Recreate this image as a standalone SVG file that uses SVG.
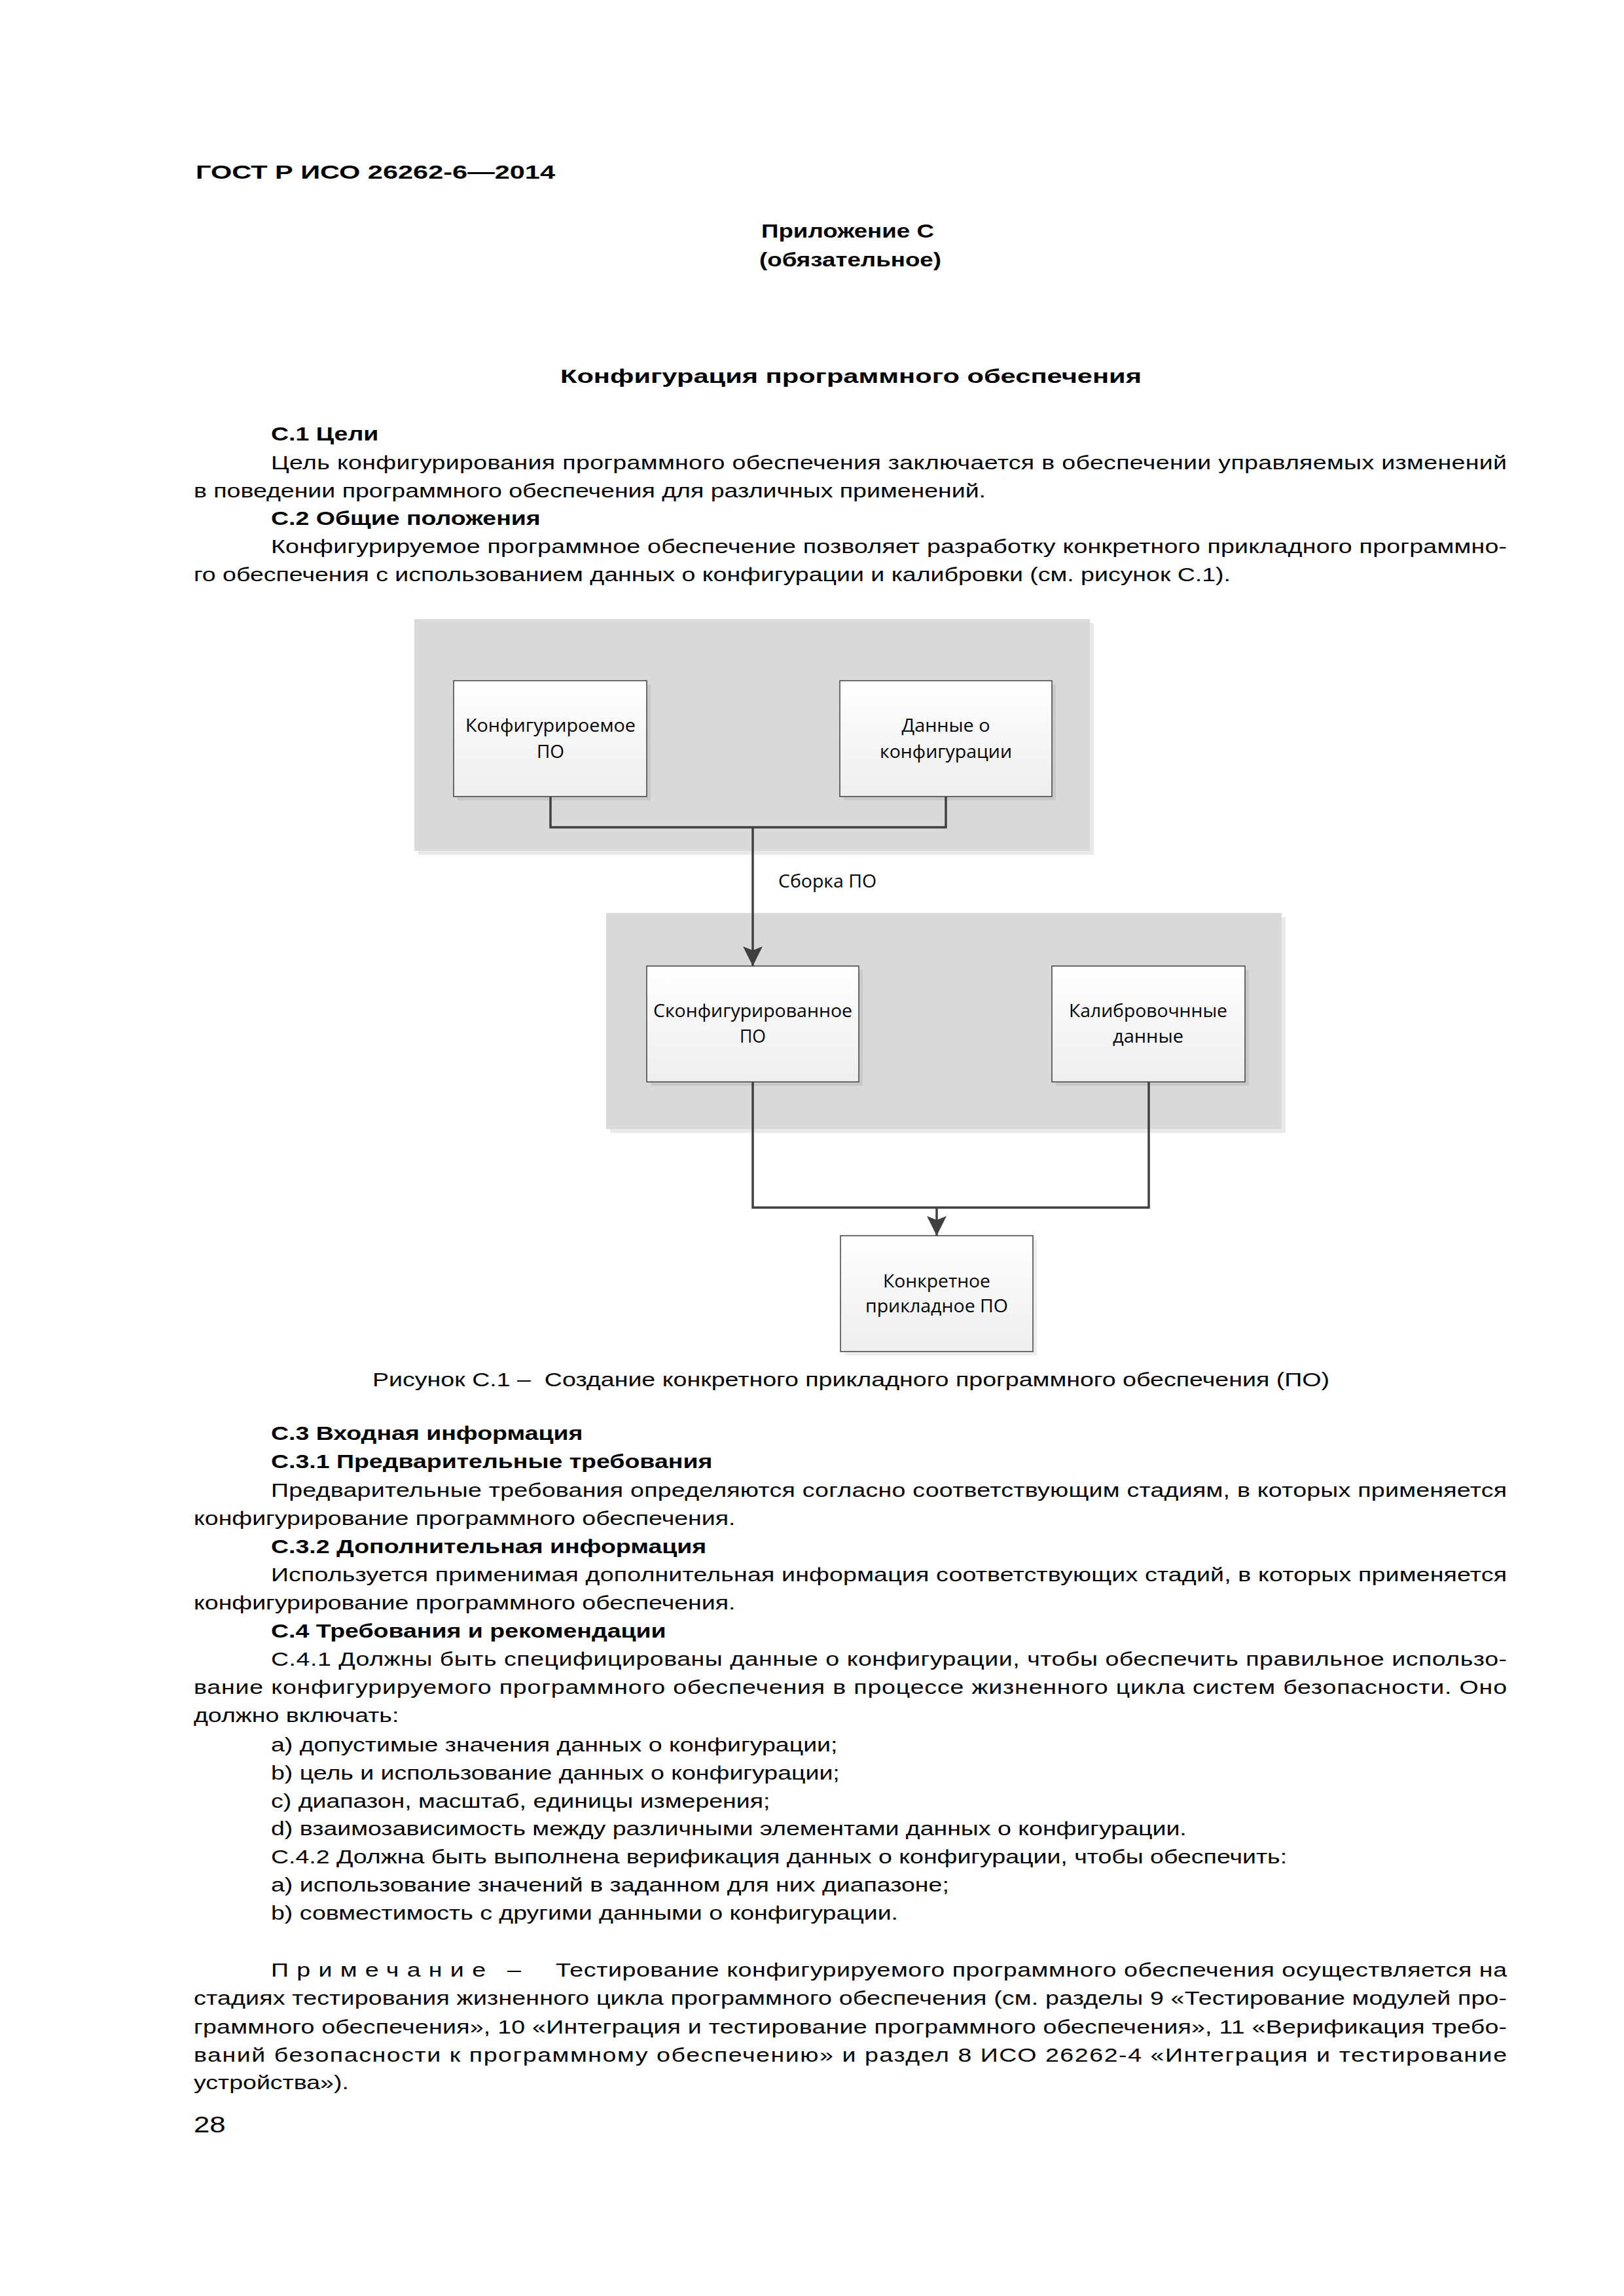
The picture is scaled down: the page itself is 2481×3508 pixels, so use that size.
<svg xmlns="http://www.w3.org/2000/svg" width="2481" height="3508" viewBox="0 0 2481 3508">
<defs>
<linearGradient id="g" x1="0" y1="0" x2="0" y2="1">
<stop offset="0" stop-color="#ffffff"/>
<stop offset="1" stop-color="#eeeeee"/>
</linearGradient>
<marker id="arr" markerUnits="userSpaceOnUse" markerWidth="30" markerHeight="30" refX="30" refY="15" orient="auto" viewBox="0 0 30 30">
<path d="M0,0 L30,15 L0,30 L6,15 Z" fill="#404040"/>
</marker>
<style>
.t{font-family:"Liberation Sans",Arial,sans-serif;font-size:30px;fill:#000}
.b{font-weight:bold}
.d{font-family:"Open Sans","Noto Sans",sans-serif;font-size:28px;fill:#000;text-anchor:middle}
.box{fill:url(#g);stroke:#404040;stroke-width:1.5}
.sh{fill:#000;fill-opacity:0.07}
.cont{fill:#d9d9d9}
.csh{fill:#e9e9e9}
.con{fill:none;stroke:#404040;stroke-width:3.5}
</style>
</defs>
<rect width="2481" height="3508" fill="#fff"/>

<!-- header / titles -->
<text class="t b" x="299" y="273" font-size="40" textLength="549" lengthAdjust="spacingAndGlyphs">ГОСТ Р ИСО 26262-6—2014</text>
<text class="t b" x="1295" y="363" text-anchor="middle" textLength="264" lengthAdjust="spacingAndGlyphs">Приложение С</text>
<text class="t b" x="1299" y="407" text-anchor="middle" textLength="278" lengthAdjust="spacingAndGlyphs">(обязательное)</text>
<text class="t b" x="1300" y="585" font-size="38" text-anchor="middle" textLength="888" lengthAdjust="spacingAndGlyphs">Конфигурация программного обеспечения</text>

<g class="t" transform="scale(1.25 1)">
<text class="b" x="331.2" y="673">С.1 Цели</text>
<text x="331.2" y="717" textLength="1510.4" lengthAdjust="spacing">Цель конфигурирования программного обеспечения заключается в обеспечении управляемых изменений</text>
<text x="236.8" y="760">в поведении программного обеспечения для различных применений.</text>
<text class="b" x="331.2" y="802">С.2 Общие положения</text>
<text x="331.2" y="845" textLength="1510.4" lengthAdjust="spacing">Конфигурируемое программное обеспечение позволяет разработку конкретного прикладного программно-</text>
<text x="236.8" y="888">го обеспечения с использованием данных о конфигурации и калибровки (см. рисунок С.1).</text>

<text class="b" x="331.2" y="2200">С.3 Входная информация</text>
<text class="b" x="331.2" y="2243">С.3.1 Предварительные требования</text>
<text x="331.2" y="2287" textLength="1510.4" lengthAdjust="spacing">Предварительные требования определяются согласно соответствующим стадиям, в которых применяется</text>
<text x="236.8" y="2330">конфигурирование программного обеспечения.</text>
<text class="b" x="331.2" y="2373">С.3.2 Дополнительная информация</text>
<text x="331.2" y="2416" textLength="1510.4" lengthAdjust="spacing">Используется применимая дополнительная информация соответствующих стадий, в которых применяется</text>
<text x="236.8" y="2459">конфигурирование программного обеспечения.</text>
<text class="b" x="331.2" y="2502">С.4 Требования и рекомендации</text>
<text x="331.2" y="2545" textLength="1510.4" lengthAdjust="spacing">С.4.1 Должны быть специфицированы данные о конфигурации, чтобы обеспечить правильное использо-</text>
<text x="236.8" y="2588" textLength="1604.8" lengthAdjust="spacing">вание конфигурируемого программного обеспечения в процессе жизненного цикла систем безопасности. Оно</text>
<text x="236.8" y="2631">должно включать:</text>
<text x="331.2" y="2676">a) допустимые значения данных о конфигурации;</text>
<text x="331.2" y="2719">b) цель и использование данных о конфигурации;</text>
<text x="331.2" y="2762">c) диапазон, масштаб, единицы измерения;</text>
<text x="331.2" y="2804">d) взаимозависимость между различными элементами данных о конфигурации.</text>
<text x="331.2" y="2847">С.4.2 Должна быть выполнена верификация данных о конфигурации, чтобы обеспечить:</text>
<text x="331.2" y="2890">a) использование значений в заданном для них диапазоне;</text>
<text x="331.2" y="2933">b) совместимость с другими данными о конфигурации.</text>

<text x="331.2" y="3020" textLength="262.4" lengthAdjust="spacing">Примечание</text>
<text x="620" y="3020">–</text>
<text x="679.2" y="3020" textLength="1162.4" lengthAdjust="spacing">Тестирование конфигурируемого программного обеспечения осуществляется на</text>
<text x="236.8" y="3063" textLength="1604.8" lengthAdjust="spacing">стадиях тестирования жизненного цикла программного обеспечения (см. разделы 9 «Тестирование модулей про-</text>
<text x="236.8" y="3107" textLength="1604.8" lengthAdjust="spacing">граммного обеспечения», 10 «Интеграция и тестирование программного обеспечения», 11 «Верификация требо-</text>
<text x="236.8" y="3150" textLength="1604.8" lengthAdjust="spacing">ваний безопасности к программному обеспечению» и раздел 8 ИСО 26262-4 «Интеграция и тестирование</text>
<text x="236.8" y="3192">устройства»).</text>
<text x="236.8" y="3258" font-size="35">28</text>
</g>

<text class="t" x="569" y="2118" textLength="1462" lengthAdjust="spacingAndGlyphs" xml:space="preserve">Рисунок С.1 –  Создание конкретного прикладного программного обеспечения (ПО)</text>

<!-- containers -->
<g id="container1">
<rect class="csh" x="639" y="952" width="1032" height="354"/>
<rect class="cont" x="633" y="946" width="1032" height="354"/>
</g>
<g id="container2">
<rect class="csh" x="932" y="1401" width="1032" height="330"/>
<rect class="cont" x="926" y="1395" width="1032" height="330"/>
</g>

<!-- nodes -->
<g id="node-configurable">
<rect class="sh" x="699" y="1046" width="295" height="177"/>
<rect class="box" x="693" y="1040" width="295" height="177"/>
<text class="d" x="841" y="1118" textLength="260" lengthAdjust="spacingAndGlyphs">Конфигурироемое</text>
<text class="d" x="841" y="1158" textLength="42" lengthAdjust="spacingAndGlyphs">ПО</text>
</g>
<g id="node-configdata">
<rect class="sh" x="1289" y="1046" width="324" height="177"/>
<rect class="box" x="1283" y="1040" width="324" height="177"/>
<text class="d" x="1445" y="1118" textLength="135" lengthAdjust="spacingAndGlyphs">Данные о</text>
<text class="d" x="1445" y="1158" textLength="202" lengthAdjust="spacingAndGlyphs">конфигурации</text>
</g>
<g id="node-configured">
<rect class="sh" x="994" y="1482" width="324" height="177"/>
<rect class="box" x="988" y="1476" width="324" height="177"/>
<text class="d" x="1150" y="1554" textLength="304" lengthAdjust="spacingAndGlyphs">Сконфигурированное</text>
<text class="d" x="1150" y="1593" textLength="40" lengthAdjust="spacingAndGlyphs">ПО</text>
</g>
<g id="node-calibration">
<rect class="sh" x="1613" y="1482" width="295" height="177"/>
<rect class="box" x="1607" y="1476" width="295" height="177"/>
<text class="d" x="1754" y="1554" textLength="242" lengthAdjust="spacingAndGlyphs">Калибровочнные</text>
<text class="d" x="1754" y="1593" textLength="108" lengthAdjust="spacingAndGlyphs">данные</text>
</g>
<g id="node-application">
<rect class="sh" x="1290" y="1894" width="294" height="177"/>
<rect class="box" x="1284" y="1888" width="294" height="177"/>
<text class="d" x="1431" y="1967" textLength="164" lengthAdjust="spacingAndGlyphs">Конкретное</text>
<text class="d" x="1431" y="2005" textLength="218" lengthAdjust="spacingAndGlyphs">прикладное ПО</text>
</g>

<!-- connectors -->
<g id="connectors">
<path class="con" d="M841,1217 V1264 H1445 V1217"/>
<path class="con" d="M1150,1264 V1476" marker-end="url(#arr)"/>
<text class="d" x="1264" y="1356" textLength="150" lengthAdjust="spacingAndGlyphs">Сборка ПО</text>
<path class="con" d="M1150,1653 V1845 H1755 V1653"/>
<path class="con" d="M1431,1845 V1888" marker-end="url(#arr)"/>
</g>
</svg>
